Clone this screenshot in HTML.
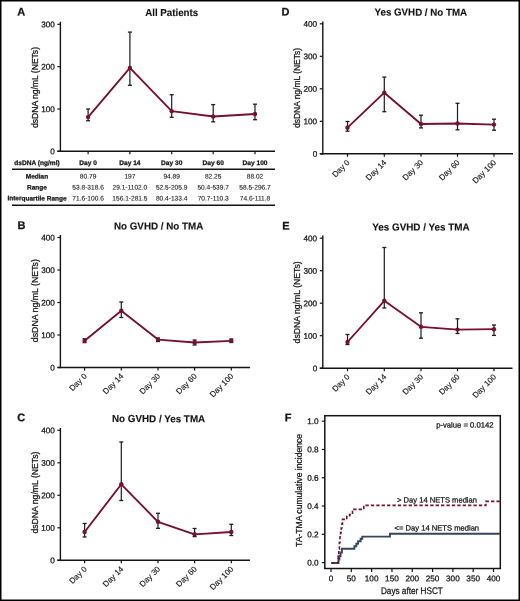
<!DOCTYPE html><html><head><meta charset="utf-8"><style>html,body{margin:0;padding:0;background:#fff;width:520px;height:601px;overflow:hidden}svg{font-family:"Liberation Sans",sans-serif}</style></head><body><svg width="520" height="601" viewBox="0 0 520 601" style="display:block;will-change:transform">
<rect x="0" y="0" width="520" height="601" fill="#fff"/>
<line x1="60.40" y1="21.80" x2="60.40" y2="152.00" stroke="#141414" stroke-width="1.4"/>
<line x1="57.40" y1="151.30" x2="60.40" y2="151.30" stroke="#141414" stroke-width="1.2"/>
<text x="54.80" y="154.25" font-size="8.2" text-anchor="end" fill="#141414" stroke="#141414" stroke-width="0.25" transform="rotate(0.05 54.80 154.25)">0</text>
<line x1="57.40" y1="108.97" x2="60.40" y2="108.97" stroke="#141414" stroke-width="1.2"/>
<text x="54.80" y="111.92" font-size="8.2" text-anchor="end" fill="#141414" stroke="#141414" stroke-width="0.25" transform="rotate(0.05 54.80 111.92)">100</text>
<line x1="57.40" y1="66.63" x2="60.40" y2="66.63" stroke="#141414" stroke-width="1.2"/>
<text x="54.80" y="69.58" font-size="8.2" text-anchor="end" fill="#141414" stroke="#141414" stroke-width="0.25" transform="rotate(0.05 54.80 69.58)">200</text>
<line x1="57.40" y1="24.30" x2="60.40" y2="24.30" stroke="#141414" stroke-width="1.2"/>
<text x="54.80" y="27.25" font-size="8.2" text-anchor="end" fill="#141414" stroke="#141414" stroke-width="0.25" transform="rotate(0.05 54.80 27.25)">300</text>
<line x1="57.40" y1="151.30" x2="275.00" y2="151.30" stroke="#141414" stroke-width="1.4"/>
<line x1="88.10" y1="151.30" x2="88.10" y2="154.30" stroke="#141414" stroke-width="1.2"/>
<line x1="129.90" y1="151.30" x2="129.90" y2="154.30" stroke="#141414" stroke-width="1.2"/>
<line x1="171.70" y1="151.30" x2="171.70" y2="154.30" stroke="#141414" stroke-width="1.2"/>
<line x1="213.20" y1="151.30" x2="213.20" y2="154.30" stroke="#141414" stroke-width="1.2"/>
<line x1="255.00" y1="151.30" x2="255.00" y2="154.30" stroke="#141414" stroke-width="1.2"/>
<text transform="translate(34.60,87.50) rotate(-90)" x="0" y="3.0" font-size="8.6" text-anchor="middle" fill="#141414" stroke="#141414" stroke-width="0.25" textLength="81.00" lengthAdjust="spacingAndGlyphs">dsDNA ng/mL (NETs)</text>
<text x="145.20" y="16.00" font-size="10.2" font-weight="bold" text-anchor="start" fill="#141414" stroke="#141414" stroke-width="0.12" textLength="53.00" lengthAdjust="spacingAndGlyphs" transform="rotate(0.05 145.20 16.00)">All Patients</text>
<text x="17.20" y="15.50" font-size="11" font-weight="bold" text-anchor="start" fill="#141414" stroke="#141414" stroke-width="0.25" transform="rotate(0.05 17.20 15.50)">A</text>
<line x1="88.10" y1="109.00" x2="88.10" y2="120.70" stroke="#1c1c1c" stroke-width="1.2"/>
<line x1="86.10" y1="109.00" x2="90.10" y2="109.00" stroke="#1c1c1c" stroke-width="1.3"/>
<line x1="86.10" y1="120.70" x2="90.10" y2="120.70" stroke="#1c1c1c" stroke-width="1.3"/>
<line x1="129.90" y1="32.10" x2="129.90" y2="85.30" stroke="#1c1c1c" stroke-width="1.2"/>
<line x1="127.90" y1="32.10" x2="131.90" y2="32.10" stroke="#1c1c1c" stroke-width="1.3"/>
<line x1="127.90" y1="85.30" x2="131.90" y2="85.30" stroke="#1c1c1c" stroke-width="1.3"/>
<line x1="171.70" y1="94.70" x2="171.70" y2="117.30" stroke="#1c1c1c" stroke-width="1.2"/>
<line x1="169.70" y1="94.70" x2="173.70" y2="94.70" stroke="#1c1c1c" stroke-width="1.3"/>
<line x1="169.70" y1="117.30" x2="173.70" y2="117.30" stroke="#1c1c1c" stroke-width="1.3"/>
<line x1="213.20" y1="104.60" x2="213.20" y2="121.80" stroke="#1c1c1c" stroke-width="1.2"/>
<line x1="211.20" y1="104.60" x2="215.20" y2="104.60" stroke="#1c1c1c" stroke-width="1.3"/>
<line x1="211.20" y1="121.80" x2="215.20" y2="121.80" stroke="#1c1c1c" stroke-width="1.3"/>
<line x1="255.00" y1="104.20" x2="255.00" y2="119.70" stroke="#1c1c1c" stroke-width="1.2"/>
<line x1="253.00" y1="104.20" x2="257.00" y2="104.20" stroke="#1c1c1c" stroke-width="1.3"/>
<line x1="253.00" y1="119.70" x2="257.00" y2="119.70" stroke="#1c1c1c" stroke-width="1.3"/>
<polyline points="88.10,117.10 129.90,67.90 171.70,111.13 213.20,116.48 255.00,114.04" fill="none" stroke="#76102f" stroke-width="1.85" stroke-linejoin="round"/>
<circle cx="88.10" cy="117.10" r="2.2" fill="#76102f"/>
<circle cx="129.90" cy="67.90" r="2.2" fill="#76102f"/>
<circle cx="171.70" cy="111.13" r="2.2" fill="#76102f"/>
<circle cx="213.20" cy="116.48" r="2.2" fill="#76102f"/>
<circle cx="255.00" cy="114.04" r="2.2" fill="#76102f"/>
<text x="37.00" y="165.00" font-size="6.6" font-weight="bold" text-anchor="middle" fill="#141414" stroke="#141414" stroke-width="0.25" transform="rotate(0.05 37.00 165.00)">dsDNA (ng/ml)</text>
<text x="88.10" y="165.00" font-size="6.6" font-weight="bold" text-anchor="middle" fill="#141414" stroke="#141414" stroke-width="0.25" transform="rotate(0.05 88.10 165.00)">Day 0</text>
<text x="129.90" y="165.00" font-size="6.6" font-weight="bold" text-anchor="middle" fill="#141414" stroke="#141414" stroke-width="0.25" transform="rotate(0.05 129.90 165.00)">Day 14</text>
<text x="171.70" y="165.00" font-size="6.6" font-weight="bold" text-anchor="middle" fill="#141414" stroke="#141414" stroke-width="0.25" transform="rotate(0.05 171.70 165.00)">Day 30</text>
<text x="213.20" y="165.00" font-size="6.6" font-weight="bold" text-anchor="middle" fill="#141414" stroke="#141414" stroke-width="0.25" transform="rotate(0.05 213.20 165.00)">Day 60</text>
<text x="255.00" y="165.00" font-size="6.6" font-weight="bold" text-anchor="middle" fill="#141414" stroke="#141414" stroke-width="0.25" transform="rotate(0.05 255.00 165.00)">Day 100</text>
<line x1="12.00" y1="169.30" x2="275.00" y2="169.30" stroke="#141414" stroke-width="1.4"/>
<text x="37.00" y="178.60" font-size="6.5" font-weight="bold" text-anchor="middle" fill="#141414" stroke="#141414" stroke-width="0.25" transform="rotate(0.05 37.00 178.60)">Median</text>
<text x="88.10" y="178.60" font-size="6.6" text-anchor="middle" fill="#141414" stroke="#141414" stroke-width="0.1" transform="rotate(0.05 88.10 178.60)">80.79</text>
<text x="129.90" y="178.60" font-size="6.6" text-anchor="middle" fill="#141414" stroke="#141414" stroke-width="0.1" transform="rotate(0.05 129.90 178.60)">197</text>
<text x="171.70" y="178.60" font-size="6.6" text-anchor="middle" fill="#141414" stroke="#141414" stroke-width="0.1" transform="rotate(0.05 171.70 178.60)">94.89</text>
<text x="213.20" y="178.60" font-size="6.6" text-anchor="middle" fill="#141414" stroke="#141414" stroke-width="0.1" transform="rotate(0.05 213.20 178.60)">82.25</text>
<text x="255.00" y="178.60" font-size="6.6" text-anchor="middle" fill="#141414" stroke="#141414" stroke-width="0.1" transform="rotate(0.05 255.00 178.60)">88.02</text>
<text x="37.00" y="189.60" font-size="6.5" font-weight="bold" text-anchor="middle" fill="#141414" stroke="#141414" stroke-width="0.25" transform="rotate(0.05 37.00 189.60)">Range</text>
<text x="88.10" y="189.60" font-size="6.6" text-anchor="middle" fill="#141414" stroke="#141414" stroke-width="0.1" transform="rotate(0.05 88.10 189.60)">53.8-318.6</text>
<text x="129.90" y="189.60" font-size="6.6" text-anchor="middle" fill="#141414" stroke="#141414" stroke-width="0.1" transform="rotate(0.05 129.90 189.60)">29.1-1102.0</text>
<text x="171.70" y="189.60" font-size="6.6" text-anchor="middle" fill="#141414" stroke="#141414" stroke-width="0.1" transform="rotate(0.05 171.70 189.60)">52.5-205.9</text>
<text x="213.20" y="189.60" font-size="6.6" text-anchor="middle" fill="#141414" stroke="#141414" stroke-width="0.1" transform="rotate(0.05 213.20 189.60)">50.4-539.7</text>
<text x="255.00" y="189.60" font-size="6.6" text-anchor="middle" fill="#141414" stroke="#141414" stroke-width="0.1" transform="rotate(0.05 255.00 189.60)">58.5-296.7</text>
<text x="37.00" y="200.40" font-size="6.5" font-weight="bold" text-anchor="middle" fill="#141414" stroke="#141414" stroke-width="0.25" transform="rotate(0.05 37.00 200.40)">Interquartile Range</text>
<text x="88.10" y="200.40" font-size="6.6" text-anchor="middle" fill="#141414" stroke="#141414" stroke-width="0.1" transform="rotate(0.05 88.10 200.40)">71.6-100.6</text>
<text x="129.90" y="200.40" font-size="6.6" text-anchor="middle" fill="#141414" stroke="#141414" stroke-width="0.1" transform="rotate(0.05 129.90 200.40)">156.1-281.5</text>
<text x="171.70" y="200.40" font-size="6.6" text-anchor="middle" fill="#141414" stroke="#141414" stroke-width="0.1" transform="rotate(0.05 171.70 200.40)">80.4-133.4</text>
<text x="213.20" y="200.40" font-size="6.6" text-anchor="middle" fill="#141414" stroke="#141414" stroke-width="0.1" transform="rotate(0.05 213.20 200.40)">70.7-110.3</text>
<text x="255.00" y="200.40" font-size="6.6" text-anchor="middle" fill="#141414" stroke="#141414" stroke-width="0.1" transform="rotate(0.05 255.00 200.40)">74.6-111.8</text>
<line x1="12.00" y1="205.20" x2="275.00" y2="205.20" stroke="#141414" stroke-width="1.4"/>
<line x1="60.40" y1="235.00" x2="60.40" y2="368.20" stroke="#141414" stroke-width="1.4"/>
<line x1="57.40" y1="367.50" x2="60.40" y2="367.50" stroke="#141414" stroke-width="1.2"/>
<text x="54.80" y="370.45" font-size="8.2" text-anchor="end" fill="#141414" stroke="#141414" stroke-width="0.25" transform="rotate(0.05 54.80 370.45)">0</text>
<line x1="57.40" y1="335.00" x2="60.40" y2="335.00" stroke="#141414" stroke-width="1.2"/>
<text x="54.80" y="337.95" font-size="8.2" text-anchor="end" fill="#141414" stroke="#141414" stroke-width="0.25" transform="rotate(0.05 54.80 337.95)">100</text>
<line x1="57.40" y1="302.50" x2="60.40" y2="302.50" stroke="#141414" stroke-width="1.2"/>
<text x="54.80" y="305.45" font-size="8.2" text-anchor="end" fill="#141414" stroke="#141414" stroke-width="0.25" transform="rotate(0.05 54.80 305.45)">200</text>
<line x1="57.40" y1="270.00" x2="60.40" y2="270.00" stroke="#141414" stroke-width="1.2"/>
<text x="54.80" y="272.95" font-size="8.2" text-anchor="end" fill="#141414" stroke="#141414" stroke-width="0.25" transform="rotate(0.05 54.80 272.95)">300</text>
<line x1="57.40" y1="237.50" x2="60.40" y2="237.50" stroke="#141414" stroke-width="1.2"/>
<text x="54.80" y="240.45" font-size="8.2" text-anchor="end" fill="#141414" stroke="#141414" stroke-width="0.25" transform="rotate(0.05 54.80 240.45)">400</text>
<line x1="57.40" y1="367.50" x2="250.00" y2="367.50" stroke="#141414" stroke-width="1.4"/>
<line x1="84.60" y1="367.50" x2="84.60" y2="370.50" stroke="#141414" stroke-width="1.2"/>
<line x1="121.30" y1="367.50" x2="121.30" y2="370.50" stroke="#141414" stroke-width="1.2"/>
<line x1="158.00" y1="367.50" x2="158.00" y2="370.50" stroke="#141414" stroke-width="1.2"/>
<line x1="194.60" y1="367.50" x2="194.60" y2="370.50" stroke="#141414" stroke-width="1.2"/>
<line x1="231.30" y1="367.50" x2="231.30" y2="370.50" stroke="#141414" stroke-width="1.2"/>
<text transform="translate(34.60,300.70) rotate(-90)" x="0" y="3.0" font-size="8.6" text-anchor="middle" fill="#141414" stroke="#141414" stroke-width="0.25" textLength="83.00" lengthAdjust="spacingAndGlyphs">dsDNA ng/mL (NETs)</text>
<text x="113.90" y="229.50" font-size="10.2" font-weight="bold" text-anchor="start" fill="#141414" stroke="#141414" stroke-width="0.12" textLength="89.40" lengthAdjust="spacingAndGlyphs" transform="rotate(0.05 113.90 229.50)">No GVHD / No TMA</text>
<text x="17.60" y="229.10" font-size="11" font-weight="bold" text-anchor="start" fill="#141414" stroke="#141414" stroke-width="0.25" transform="rotate(0.05 17.60 229.10)">B</text>
<line x1="84.60" y1="338.80" x2="84.60" y2="342.60" stroke="#1c1c1c" stroke-width="1.2"/>
<line x1="82.60" y1="338.80" x2="86.60" y2="338.80" stroke="#1c1c1c" stroke-width="1.3"/>
<line x1="82.60" y1="342.60" x2="86.60" y2="342.60" stroke="#1c1c1c" stroke-width="1.3"/>
<line x1="121.30" y1="302.00" x2="121.30" y2="317.50" stroke="#1c1c1c" stroke-width="1.2"/>
<line x1="119.30" y1="302.00" x2="123.30" y2="302.00" stroke="#1c1c1c" stroke-width="1.3"/>
<line x1="119.30" y1="317.50" x2="123.30" y2="317.50" stroke="#1c1c1c" stroke-width="1.3"/>
<line x1="158.00" y1="338.00" x2="158.00" y2="341.50" stroke="#1c1c1c" stroke-width="1.2"/>
<line x1="156.00" y1="338.00" x2="160.00" y2="338.00" stroke="#1c1c1c" stroke-width="1.3"/>
<line x1="156.00" y1="341.50" x2="160.00" y2="341.50" stroke="#1c1c1c" stroke-width="1.3"/>
<line x1="194.60" y1="340.00" x2="194.60" y2="345.00" stroke="#1c1c1c" stroke-width="1.2"/>
<line x1="192.60" y1="340.00" x2="196.60" y2="340.00" stroke="#1c1c1c" stroke-width="1.3"/>
<line x1="192.60" y1="345.00" x2="196.60" y2="345.00" stroke="#1c1c1c" stroke-width="1.3"/>
<line x1="231.30" y1="339.00" x2="231.30" y2="342.50" stroke="#1c1c1c" stroke-width="1.2"/>
<line x1="229.30" y1="339.00" x2="233.30" y2="339.00" stroke="#1c1c1c" stroke-width="1.3"/>
<line x1="229.30" y1="342.50" x2="233.30" y2="342.50" stroke="#1c1c1c" stroke-width="1.3"/>
<polyline points="84.60,340.80 121.30,310.80 158.00,339.60 194.60,342.50 231.30,340.80" fill="none" stroke="#76102f" stroke-width="1.85" stroke-linejoin="round"/>
<circle cx="84.60" cy="340.80" r="2.2" fill="#76102f"/>
<circle cx="121.30" cy="310.80" r="2.2" fill="#76102f"/>
<circle cx="158.00" cy="339.60" r="2.2" fill="#76102f"/>
<circle cx="194.60" cy="342.50" r="2.2" fill="#76102f"/>
<circle cx="231.30" cy="340.80" r="2.2" fill="#76102f"/>
<text transform="translate(87.30,376.70) rotate(-45)" x="0" y="0" font-size="8.0" text-anchor="end" fill="#141414" stroke="#141414" stroke-width="0.12">Day 0</text>
<text transform="translate(124.00,376.70) rotate(-45)" x="0" y="0" font-size="8.0" text-anchor="end" fill="#141414" stroke="#141414" stroke-width="0.12">Day 14</text>
<text transform="translate(160.70,376.70) rotate(-45)" x="0" y="0" font-size="8.0" text-anchor="end" fill="#141414" stroke="#141414" stroke-width="0.12">Day 30</text>
<text transform="translate(197.30,376.70) rotate(-45)" x="0" y="0" font-size="8.0" text-anchor="end" fill="#141414" stroke="#141414" stroke-width="0.12">Day 60</text>
<text transform="translate(234.00,376.70) rotate(-45)" x="0" y="0" font-size="8.0" text-anchor="end" fill="#141414" stroke="#141414" stroke-width="0.12">Day 100</text>
<line x1="60.40" y1="428.00" x2="60.40" y2="561.00" stroke="#141414" stroke-width="1.4"/>
<line x1="57.40" y1="560.30" x2="60.40" y2="560.30" stroke="#141414" stroke-width="1.2"/>
<text x="54.80" y="563.25" font-size="8.2" text-anchor="end" fill="#141414" stroke="#141414" stroke-width="0.25" transform="rotate(0.05 54.80 563.25)">0</text>
<line x1="57.40" y1="527.80" x2="60.40" y2="527.80" stroke="#141414" stroke-width="1.2"/>
<text x="54.80" y="530.75" font-size="8.2" text-anchor="end" fill="#141414" stroke="#141414" stroke-width="0.25" transform="rotate(0.05 54.80 530.75)">100</text>
<line x1="57.40" y1="495.30" x2="60.40" y2="495.30" stroke="#141414" stroke-width="1.2"/>
<text x="54.80" y="498.25" font-size="8.2" text-anchor="end" fill="#141414" stroke="#141414" stroke-width="0.25" transform="rotate(0.05 54.80 498.25)">200</text>
<line x1="57.40" y1="462.80" x2="60.40" y2="462.80" stroke="#141414" stroke-width="1.2"/>
<text x="54.80" y="465.75" font-size="8.2" text-anchor="end" fill="#141414" stroke="#141414" stroke-width="0.25" transform="rotate(0.05 54.80 465.75)">300</text>
<line x1="57.40" y1="430.30" x2="60.40" y2="430.30" stroke="#141414" stroke-width="1.2"/>
<text x="54.80" y="433.25" font-size="8.2" text-anchor="end" fill="#141414" stroke="#141414" stroke-width="0.25" transform="rotate(0.05 54.80 433.25)">400</text>
<line x1="57.40" y1="560.30" x2="250.00" y2="560.30" stroke="#141414" stroke-width="1.4"/>
<line x1="84.60" y1="560.30" x2="84.60" y2="563.30" stroke="#141414" stroke-width="1.2"/>
<line x1="121.30" y1="560.30" x2="121.30" y2="563.30" stroke="#141414" stroke-width="1.2"/>
<line x1="158.00" y1="560.30" x2="158.00" y2="563.30" stroke="#141414" stroke-width="1.2"/>
<line x1="194.60" y1="560.30" x2="194.60" y2="563.30" stroke="#141414" stroke-width="1.2"/>
<line x1="231.30" y1="560.30" x2="231.30" y2="563.30" stroke="#141414" stroke-width="1.2"/>
<text transform="translate(34.60,492.60) rotate(-90)" x="0" y="3.0" font-size="8.6" text-anchor="middle" fill="#141414" stroke="#141414" stroke-width="0.25" textLength="82.00" lengthAdjust="spacingAndGlyphs">dsDNA ng/mL (NETs)</text>
<text x="111.90" y="422.10" font-size="10.2" font-weight="bold" text-anchor="start" fill="#141414" stroke="#141414" stroke-width="0.12" textLength="93.30" lengthAdjust="spacingAndGlyphs" transform="rotate(0.05 111.90 422.10)">No GVHD / Yes TMA</text>
<text x="17.30" y="421.30" font-size="11" font-weight="bold" text-anchor="start" fill="#141414" stroke="#141414" stroke-width="0.25" transform="rotate(0.05 17.30 421.30)">C</text>
<line x1="84.60" y1="523.50" x2="84.60" y2="537.00" stroke="#1c1c1c" stroke-width="1.2"/>
<line x1="82.60" y1="523.50" x2="86.60" y2="523.50" stroke="#1c1c1c" stroke-width="1.3"/>
<line x1="82.60" y1="537.00" x2="86.60" y2="537.00" stroke="#1c1c1c" stroke-width="1.3"/>
<line x1="121.30" y1="442.00" x2="121.30" y2="500.50" stroke="#1c1c1c" stroke-width="1.2"/>
<line x1="119.30" y1="442.00" x2="123.30" y2="442.00" stroke="#1c1c1c" stroke-width="1.3"/>
<line x1="119.30" y1="500.50" x2="123.30" y2="500.50" stroke="#1c1c1c" stroke-width="1.3"/>
<line x1="158.00" y1="513.30" x2="158.00" y2="528.30" stroke="#1c1c1c" stroke-width="1.2"/>
<line x1="156.00" y1="513.30" x2="160.00" y2="513.30" stroke="#1c1c1c" stroke-width="1.3"/>
<line x1="156.00" y1="528.30" x2="160.00" y2="528.30" stroke="#1c1c1c" stroke-width="1.3"/>
<line x1="194.60" y1="528.50" x2="194.60" y2="536.60" stroke="#1c1c1c" stroke-width="1.2"/>
<line x1="192.60" y1="528.50" x2="196.60" y2="528.50" stroke="#1c1c1c" stroke-width="1.3"/>
<line x1="192.60" y1="536.60" x2="196.60" y2="536.60" stroke="#1c1c1c" stroke-width="1.3"/>
<line x1="231.30" y1="524.30" x2="231.30" y2="535.50" stroke="#1c1c1c" stroke-width="1.2"/>
<line x1="229.30" y1="524.30" x2="233.30" y2="524.30" stroke="#1c1c1c" stroke-width="1.3"/>
<line x1="229.30" y1="535.50" x2="233.30" y2="535.50" stroke="#1c1c1c" stroke-width="1.3"/>
<polyline points="84.60,532.00 121.30,484.30 158.00,521.80 194.60,534.30 231.30,532.00" fill="none" stroke="#76102f" stroke-width="1.85" stroke-linejoin="round"/>
<circle cx="84.60" cy="532.00" r="2.2" fill="#76102f"/>
<circle cx="121.30" cy="484.30" r="2.2" fill="#76102f"/>
<circle cx="158.00" cy="521.80" r="2.2" fill="#76102f"/>
<circle cx="194.60" cy="534.30" r="2.2" fill="#76102f"/>
<circle cx="231.30" cy="532.00" r="2.2" fill="#76102f"/>
<text transform="translate(87.30,569.50) rotate(-45)" x="0" y="0" font-size="8.0" text-anchor="end" fill="#141414" stroke="#141414" stroke-width="0.12">Day 0</text>
<text transform="translate(124.00,569.50) rotate(-45)" x="0" y="0" font-size="8.0" text-anchor="end" fill="#141414" stroke="#141414" stroke-width="0.12">Day 14</text>
<text transform="translate(160.70,569.50) rotate(-45)" x="0" y="0" font-size="8.0" text-anchor="end" fill="#141414" stroke="#141414" stroke-width="0.12">Day 30</text>
<text transform="translate(197.30,569.50) rotate(-45)" x="0" y="0" font-size="8.0" text-anchor="end" fill="#141414" stroke="#141414" stroke-width="0.12">Day 60</text>
<text transform="translate(234.00,569.50) rotate(-45)" x="0" y="0" font-size="8.0" text-anchor="end" fill="#141414" stroke="#141414" stroke-width="0.12">Day 100</text>
<line x1="322.80" y1="21.50" x2="322.80" y2="154.50" stroke="#141414" stroke-width="1.4"/>
<line x1="319.80" y1="153.80" x2="322.80" y2="153.80" stroke="#141414" stroke-width="1.2"/>
<text x="317.20" y="156.75" font-size="8.2" text-anchor="end" fill="#141414" stroke="#141414" stroke-width="0.25" transform="rotate(0.05 317.20 156.75)">0</text>
<line x1="319.80" y1="121.30" x2="322.80" y2="121.30" stroke="#141414" stroke-width="1.2"/>
<text x="317.20" y="124.25" font-size="8.2" text-anchor="end" fill="#141414" stroke="#141414" stroke-width="0.25" transform="rotate(0.05 317.20 124.25)">100</text>
<line x1="319.80" y1="88.80" x2="322.80" y2="88.80" stroke="#141414" stroke-width="1.2"/>
<text x="317.20" y="91.75" font-size="8.2" text-anchor="end" fill="#141414" stroke="#141414" stroke-width="0.25" transform="rotate(0.05 317.20 91.75)">200</text>
<line x1="319.80" y1="56.30" x2="322.80" y2="56.30" stroke="#141414" stroke-width="1.2"/>
<text x="317.20" y="59.25" font-size="8.2" text-anchor="end" fill="#141414" stroke="#141414" stroke-width="0.25" transform="rotate(0.05 317.20 59.25)">300</text>
<line x1="319.80" y1="23.80" x2="322.80" y2="23.80" stroke="#141414" stroke-width="1.2"/>
<text x="317.20" y="26.75" font-size="8.2" text-anchor="end" fill="#141414" stroke="#141414" stroke-width="0.25" transform="rotate(0.05 317.20 26.75)">400</text>
<line x1="319.80" y1="153.80" x2="513.00" y2="153.80" stroke="#141414" stroke-width="1.4"/>
<line x1="347.50" y1="153.80" x2="347.50" y2="156.80" stroke="#141414" stroke-width="1.2"/>
<line x1="384.30" y1="153.80" x2="384.30" y2="156.80" stroke="#141414" stroke-width="1.2"/>
<line x1="421.00" y1="153.80" x2="421.00" y2="156.80" stroke="#141414" stroke-width="1.2"/>
<line x1="457.50" y1="153.80" x2="457.50" y2="156.80" stroke="#141414" stroke-width="1.2"/>
<line x1="494.00" y1="153.80" x2="494.00" y2="156.80" stroke="#141414" stroke-width="1.2"/>
<text transform="translate(297.00,88.00) rotate(-90)" x="0" y="3.0" font-size="8.6" text-anchor="middle" fill="#141414" stroke="#141414" stroke-width="0.25" textLength="80.00" lengthAdjust="spacingAndGlyphs">dsDNA ng/mL (NETs)</text>
<text x="374.50" y="15.60" font-size="10.2" font-weight="bold" text-anchor="start" fill="#141414" stroke="#141414" stroke-width="0.12" textLength="92.60" lengthAdjust="spacingAndGlyphs" transform="rotate(0.05 374.50 15.60)">Yes GVHD / No TMA</text>
<text x="281.50" y="15.40" font-size="11" font-weight="bold" text-anchor="start" fill="#141414" stroke="#141414" stroke-width="0.25" transform="rotate(0.05 281.50 15.40)">D</text>
<line x1="347.50" y1="121.50" x2="347.50" y2="131.20" stroke="#1c1c1c" stroke-width="1.2"/>
<line x1="345.50" y1="121.50" x2="349.50" y2="121.50" stroke="#1c1c1c" stroke-width="1.3"/>
<line x1="345.50" y1="131.20" x2="349.50" y2="131.20" stroke="#1c1c1c" stroke-width="1.3"/>
<line x1="384.30" y1="77.10" x2="384.30" y2="111.70" stroke="#1c1c1c" stroke-width="1.2"/>
<line x1="382.30" y1="77.10" x2="386.30" y2="77.10" stroke="#1c1c1c" stroke-width="1.3"/>
<line x1="382.30" y1="111.70" x2="386.30" y2="111.70" stroke="#1c1c1c" stroke-width="1.3"/>
<line x1="421.00" y1="115.20" x2="421.00" y2="127.90" stroke="#1c1c1c" stroke-width="1.2"/>
<line x1="419.00" y1="115.20" x2="423.00" y2="115.20" stroke="#1c1c1c" stroke-width="1.3"/>
<line x1="419.00" y1="127.90" x2="423.00" y2="127.90" stroke="#1c1c1c" stroke-width="1.3"/>
<line x1="457.50" y1="103.30" x2="457.50" y2="129.80" stroke="#1c1c1c" stroke-width="1.2"/>
<line x1="455.50" y1="103.30" x2="459.50" y2="103.30" stroke="#1c1c1c" stroke-width="1.3"/>
<line x1="455.50" y1="129.80" x2="459.50" y2="129.80" stroke="#1c1c1c" stroke-width="1.3"/>
<line x1="494.00" y1="119.20" x2="494.00" y2="130.20" stroke="#1c1c1c" stroke-width="1.2"/>
<line x1="492.00" y1="119.20" x2="496.00" y2="119.20" stroke="#1c1c1c" stroke-width="1.3"/>
<line x1="492.00" y1="130.20" x2="496.00" y2="130.20" stroke="#1c1c1c" stroke-width="1.3"/>
<polyline points="347.50,127.70 384.30,92.70 421.00,124.00 457.50,123.50 494.00,124.60" fill="none" stroke="#76102f" stroke-width="1.85" stroke-linejoin="round"/>
<circle cx="347.50" cy="127.70" r="2.2" fill="#76102f"/>
<circle cx="384.30" cy="92.70" r="2.2" fill="#76102f"/>
<circle cx="421.00" cy="124.00" r="2.2" fill="#76102f"/>
<circle cx="457.50" cy="123.50" r="2.2" fill="#76102f"/>
<circle cx="494.00" cy="124.60" r="2.2" fill="#76102f"/>
<text transform="translate(350.20,163.00) rotate(-45)" x="0" y="0" font-size="8.0" text-anchor="end" fill="#141414" stroke="#141414" stroke-width="0.12">Day 0</text>
<text transform="translate(387.00,163.00) rotate(-45)" x="0" y="0" font-size="8.0" text-anchor="end" fill="#141414" stroke="#141414" stroke-width="0.12">Day 14</text>
<text transform="translate(423.70,163.00) rotate(-45)" x="0" y="0" font-size="8.0" text-anchor="end" fill="#141414" stroke="#141414" stroke-width="0.12">Day 30</text>
<text transform="translate(460.20,163.00) rotate(-45)" x="0" y="0" font-size="8.0" text-anchor="end" fill="#141414" stroke="#141414" stroke-width="0.12">Day 60</text>
<text transform="translate(496.70,163.00) rotate(-45)" x="0" y="0" font-size="8.0" text-anchor="end" fill="#141414" stroke="#141414" stroke-width="0.12">Day 100</text>
<line x1="322.80" y1="235.50" x2="322.80" y2="368.90" stroke="#141414" stroke-width="1.4"/>
<line x1="319.80" y1="368.20" x2="322.80" y2="368.20" stroke="#141414" stroke-width="1.2"/>
<text x="317.20" y="371.15" font-size="8.2" text-anchor="end" fill="#141414" stroke="#141414" stroke-width="0.25" transform="rotate(0.05 317.20 371.15)">0</text>
<line x1="319.80" y1="335.70" x2="322.80" y2="335.70" stroke="#141414" stroke-width="1.2"/>
<text x="317.20" y="338.65" font-size="8.2" text-anchor="end" fill="#141414" stroke="#141414" stroke-width="0.25" transform="rotate(0.05 317.20 338.65)">100</text>
<line x1="319.80" y1="303.20" x2="322.80" y2="303.20" stroke="#141414" stroke-width="1.2"/>
<text x="317.20" y="306.15" font-size="8.2" text-anchor="end" fill="#141414" stroke="#141414" stroke-width="0.25" transform="rotate(0.05 317.20 306.15)">200</text>
<line x1="319.80" y1="270.70" x2="322.80" y2="270.70" stroke="#141414" stroke-width="1.2"/>
<text x="317.20" y="273.65" font-size="8.2" text-anchor="end" fill="#141414" stroke="#141414" stroke-width="0.25" transform="rotate(0.05 317.20 273.65)">300</text>
<line x1="319.80" y1="238.20" x2="322.80" y2="238.20" stroke="#141414" stroke-width="1.2"/>
<text x="317.20" y="241.15" font-size="8.2" text-anchor="end" fill="#141414" stroke="#141414" stroke-width="0.25" transform="rotate(0.05 317.20 241.15)">400</text>
<line x1="319.80" y1="368.20" x2="512.50" y2="368.20" stroke="#141414" stroke-width="1.4"/>
<line x1="347.50" y1="368.20" x2="347.50" y2="371.20" stroke="#141414" stroke-width="1.2"/>
<line x1="384.30" y1="368.20" x2="384.30" y2="371.20" stroke="#141414" stroke-width="1.2"/>
<line x1="421.00" y1="368.20" x2="421.00" y2="371.20" stroke="#141414" stroke-width="1.2"/>
<line x1="457.50" y1="368.20" x2="457.50" y2="371.20" stroke="#141414" stroke-width="1.2"/>
<line x1="494.00" y1="368.20" x2="494.00" y2="371.20" stroke="#141414" stroke-width="1.2"/>
<text transform="translate(297.00,302.40) rotate(-90)" x="0" y="3.0" font-size="8.6" text-anchor="middle" fill="#141414" stroke="#141414" stroke-width="0.25" textLength="82.00" lengthAdjust="spacingAndGlyphs">dsDNA ng/mL (NETs)</text>
<text x="372.20" y="230.40" font-size="10.2" font-weight="bold" text-anchor="start" fill="#141414" stroke="#141414" stroke-width="0.12" textLength="97.50" lengthAdjust="spacingAndGlyphs" transform="rotate(0.05 372.20 230.40)">Yes GVHD / Yes TMA</text>
<text x="282.20" y="229.40" font-size="11" font-weight="bold" text-anchor="start" fill="#141414" stroke="#141414" stroke-width="0.25" transform="rotate(0.05 282.20 229.40)">E</text>
<line x1="347.50" y1="334.50" x2="347.50" y2="344.50" stroke="#1c1c1c" stroke-width="1.2"/>
<line x1="345.50" y1="334.50" x2="349.50" y2="334.50" stroke="#1c1c1c" stroke-width="1.3"/>
<line x1="345.50" y1="344.50" x2="349.50" y2="344.50" stroke="#1c1c1c" stroke-width="1.3"/>
<line x1="384.30" y1="247.50" x2="384.30" y2="308.00" stroke="#1c1c1c" stroke-width="1.2"/>
<line x1="382.30" y1="247.50" x2="386.30" y2="247.50" stroke="#1c1c1c" stroke-width="1.3"/>
<line x1="382.30" y1="308.00" x2="386.30" y2="308.00" stroke="#1c1c1c" stroke-width="1.3"/>
<line x1="421.00" y1="312.80" x2="421.00" y2="338.20" stroke="#1c1c1c" stroke-width="1.2"/>
<line x1="419.00" y1="312.80" x2="423.00" y2="312.80" stroke="#1c1c1c" stroke-width="1.3"/>
<line x1="419.00" y1="338.20" x2="423.00" y2="338.20" stroke="#1c1c1c" stroke-width="1.3"/>
<line x1="457.50" y1="318.80" x2="457.50" y2="333.50" stroke="#1c1c1c" stroke-width="1.2"/>
<line x1="455.50" y1="318.80" x2="459.50" y2="318.80" stroke="#1c1c1c" stroke-width="1.3"/>
<line x1="455.50" y1="333.50" x2="459.50" y2="333.50" stroke="#1c1c1c" stroke-width="1.3"/>
<line x1="494.00" y1="325.00" x2="494.00" y2="335.40" stroke="#1c1c1c" stroke-width="1.2"/>
<line x1="492.00" y1="325.00" x2="496.00" y2="325.00" stroke="#1c1c1c" stroke-width="1.3"/>
<line x1="492.00" y1="335.40" x2="496.00" y2="335.40" stroke="#1c1c1c" stroke-width="1.3"/>
<polyline points="347.50,342.00 384.30,300.80 421.00,326.80 457.50,329.60 494.00,329.20" fill="none" stroke="#76102f" stroke-width="1.85" stroke-linejoin="round"/>
<circle cx="347.50" cy="342.00" r="2.2" fill="#76102f"/>
<circle cx="384.30" cy="300.80" r="2.2" fill="#76102f"/>
<circle cx="421.00" cy="326.80" r="2.2" fill="#76102f"/>
<circle cx="457.50" cy="329.60" r="2.2" fill="#76102f"/>
<circle cx="494.00" cy="329.20" r="2.2" fill="#76102f"/>
<text transform="translate(350.20,377.40) rotate(-45)" x="0" y="0" font-size="8.0" text-anchor="end" fill="#141414" stroke="#141414" stroke-width="0.12">Day 0</text>
<text transform="translate(387.00,377.40) rotate(-45)" x="0" y="0" font-size="8.0" text-anchor="end" fill="#141414" stroke="#141414" stroke-width="0.12">Day 14</text>
<text transform="translate(423.70,377.40) rotate(-45)" x="0" y="0" font-size="8.0" text-anchor="end" fill="#141414" stroke="#141414" stroke-width="0.12">Day 30</text>
<text transform="translate(460.20,377.40) rotate(-45)" x="0" y="0" font-size="8.0" text-anchor="end" fill="#141414" stroke="#141414" stroke-width="0.12">Day 60</text>
<text transform="translate(496.70,377.40) rotate(-45)" x="0" y="0" font-size="8.0" text-anchor="end" fill="#141414" stroke="#141414" stroke-width="0.12">Day 100</text>
<rect x="324.8" y="415.7" width="175.5" height="152.8" fill="none" stroke="#141414" stroke-width="1.5"/>
<line x1="321.80" y1="562.60" x2="324.80" y2="562.60" stroke="#141414" stroke-width="1.2"/>
<text x="318.60" y="565.50" font-size="8.2" text-anchor="end" fill="#141414" stroke="#141414" stroke-width="0.25" transform="rotate(0.05 318.60 565.50)">0.0</text>
<line x1="321.80" y1="534.32" x2="324.80" y2="534.32" stroke="#141414" stroke-width="1.2"/>
<text x="318.60" y="537.22" font-size="8.2" text-anchor="end" fill="#141414" stroke="#141414" stroke-width="0.25" transform="rotate(0.05 318.60 537.22)">0.2</text>
<line x1="321.80" y1="506.04" x2="324.80" y2="506.04" stroke="#141414" stroke-width="1.2"/>
<text x="318.60" y="508.94" font-size="8.2" text-anchor="end" fill="#141414" stroke="#141414" stroke-width="0.25" transform="rotate(0.05 318.60 508.94)">0.4</text>
<line x1="321.80" y1="477.76" x2="324.80" y2="477.76" stroke="#141414" stroke-width="1.2"/>
<text x="318.60" y="480.66" font-size="8.2" text-anchor="end" fill="#141414" stroke="#141414" stroke-width="0.25" transform="rotate(0.05 318.60 480.66)">0.6</text>
<line x1="321.80" y1="449.48" x2="324.80" y2="449.48" stroke="#141414" stroke-width="1.2"/>
<text x="318.60" y="452.38" font-size="8.2" text-anchor="end" fill="#141414" stroke="#141414" stroke-width="0.25" transform="rotate(0.05 318.60 452.38)">0.8</text>
<line x1="321.80" y1="421.20" x2="324.80" y2="421.20" stroke="#141414" stroke-width="1.2"/>
<text x="318.60" y="424.10" font-size="8.2" text-anchor="end" fill="#141414" stroke="#141414" stroke-width="0.25" transform="rotate(0.05 318.60 424.10)">1.0</text>
<line x1="331.00" y1="568.50" x2="331.00" y2="572.00" stroke="#141414" stroke-width="1.2"/>
<text x="331.00" y="581.30" font-size="8.2" text-anchor="middle" fill="#141414" stroke="#141414" stroke-width="0.25" transform="rotate(0.05 331.00 581.30)">0</text>
<line x1="351.31" y1="568.50" x2="351.31" y2="572.00" stroke="#141414" stroke-width="1.2"/>
<text x="351.31" y="581.30" font-size="8.2" text-anchor="middle" fill="#141414" stroke="#141414" stroke-width="0.25" transform="rotate(0.05 351.31 581.30)">50</text>
<line x1="371.63" y1="568.50" x2="371.63" y2="572.00" stroke="#141414" stroke-width="1.2"/>
<text x="371.63" y="581.30" font-size="8.2" text-anchor="middle" fill="#141414" stroke="#141414" stroke-width="0.25" transform="rotate(0.05 371.63 581.30)">100</text>
<line x1="391.94" y1="568.50" x2="391.94" y2="572.00" stroke="#141414" stroke-width="1.2"/>
<text x="391.94" y="581.30" font-size="8.2" text-anchor="middle" fill="#141414" stroke="#141414" stroke-width="0.25" transform="rotate(0.05 391.94 581.30)">150</text>
<line x1="412.26" y1="568.50" x2="412.26" y2="572.00" stroke="#141414" stroke-width="1.2"/>
<text x="412.26" y="581.30" font-size="8.2" text-anchor="middle" fill="#141414" stroke="#141414" stroke-width="0.25" transform="rotate(0.05 412.26 581.30)">200</text>
<line x1="432.57" y1="568.50" x2="432.57" y2="572.00" stroke="#141414" stroke-width="1.2"/>
<text x="432.57" y="581.30" font-size="8.2" text-anchor="middle" fill="#141414" stroke="#141414" stroke-width="0.25" transform="rotate(0.05 432.57 581.30)">250</text>
<line x1="452.89" y1="568.50" x2="452.89" y2="572.00" stroke="#141414" stroke-width="1.2"/>
<text x="452.89" y="581.30" font-size="8.2" text-anchor="middle" fill="#141414" stroke="#141414" stroke-width="0.25" transform="rotate(0.05 452.89 581.30)">300</text>
<line x1="473.20" y1="568.50" x2="473.20" y2="572.00" stroke="#141414" stroke-width="1.2"/>
<text x="473.20" y="581.30" font-size="8.2" text-anchor="middle" fill="#141414" stroke="#141414" stroke-width="0.25" transform="rotate(0.05 473.20 581.30)">350</text>
<line x1="493.52" y1="568.50" x2="493.52" y2="572.00" stroke="#141414" stroke-width="1.2"/>
<text x="493.52" y="581.30" font-size="8.2" text-anchor="middle" fill="#141414" stroke="#141414" stroke-width="0.25" transform="rotate(0.05 493.52 581.30)">400</text>
<text x="380.90" y="594.00" font-size="9.6" text-anchor="start" fill="#141414" stroke="#141414" stroke-width="0.25" textLength="62.00" lengthAdjust="spacingAndGlyphs" transform="rotate(0.05 380.90 594.00)">Days after HSCT</text>
<text transform="translate(301.80,490.40) rotate(-90)" x="0" y="0" font-size="9.6" text-anchor="middle" fill="#141414" stroke="#141414" stroke-width="0.25" textLength="113.00" lengthAdjust="spacingAndGlyphs">TA-TMA cumulative incidence</text>
<text x="284.80" y="421.30" font-size="11" font-weight="bold" text-anchor="start" fill="#141414" stroke="#141414" stroke-width="0.25" transform="rotate(0.05 284.80 421.30)">F</text>
<text x="436.20" y="427.40" font-size="7.6" text-anchor="start" fill="#141414" stroke="#141414" stroke-width="0.25" textLength="57.40" lengthAdjust="spacingAndGlyphs" transform="rotate(0.05 436.20 427.40)">p-value = 0.0142</text>
<text x="397.00" y="502.50" font-size="7.6" text-anchor="start" fill="#141414" stroke="#141414" stroke-width="0.25" textLength="80.00" lengthAdjust="spacingAndGlyphs" transform="rotate(0.05 397.00 502.50)">&gt; Day 14 NETS median</text>
<text x="394.50" y="530.40" font-size="7.6" text-anchor="start" fill="#141414" stroke="#141414" stroke-width="0.25" textLength="84.60" lengthAdjust="spacingAndGlyphs" transform="rotate(0.05 394.50 530.40)">&lt;= Day 14 NETS median</text>
<polyline points="331.25,563 338.5,563 338.5,559.5 339.4,559.5 339.4,556 340.6,556 340.6,552.5 341.9,552.5 341.9,548.7 354.4,548.7 354.4,546.2 356.3,546.2 356.3,543.7 358.1,543.7 358.1,541.2 360.6,541.2 360.6,538.7 362.3,538.7 362.3,536.6 390,536.6 390,533.8 500,533.8" fill="none" stroke="#34465e" stroke-width="1.9"/>
<polyline points="331.25,563 338.2,563 338.2,556 338.8,556 338.8,549 339.4,549 339.4,542.5 340,542.5 340,536 340.6,536 340.6,532.5 341.2,532.5 341.2,528 341.9,528 341.9,524 342.5,524 342.5,519.4 346.8,519.4 346.8,516.6 349.6,516.6 349.6,514.6 352.5,514.6 352.5,509.4 363.8,509.4 363.8,505.4 485.8,505.4 485.8,501.4 500,501.4" fill="none" stroke="#76102f" stroke-width="1.6" stroke-dasharray="3.3 2.1"/>
<rect x="0.75" y="0.75" width="518.5" height="599.5" fill="none" stroke="#000" stroke-width="1.5"/>
</svg></body></html>
